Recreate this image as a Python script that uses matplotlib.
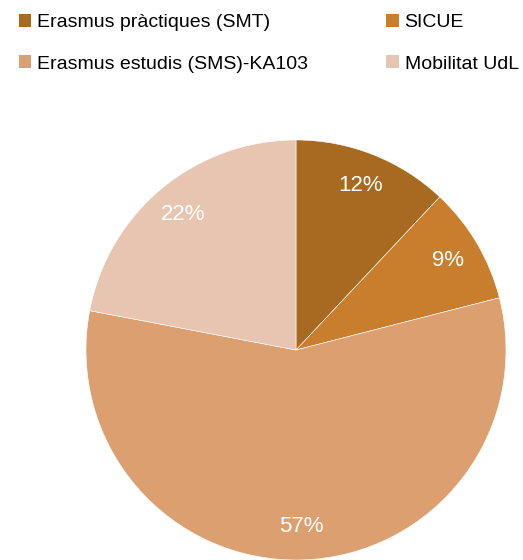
import matplotlib.pyplot as plt

labels = ["Erasmus pràctiques (SMT)", "SICUE", "Erasmus estudis (SMS)-KA103", "Mobilitat UdL"]
shares = [12, 9, 57, 22]
colors = ["#a86921", "#c87e2c", "#dc9f70", "#e7c5b0"]

plt.rcParams["font.family"] = ["Liberation Sans", "DejaVu Sans"]

fig = plt.figure(figsize=(5.23, 5.6), dpi=100)
ax = fig.add_axes([0, 0, 1, 1])

wedges, texts, autotexts = ax.pie(
    shares, colors=colors, startangle=90, counterclock=False,
    center=(296, 210), radius=210, autopct="%d%%", pctdistance=0.84,
    wedgeprops=dict(edgecolor="white", linewidth=0.4),
    textprops=dict(color="white", fontsize=16),
)
ax.set_xlim(0, 523)
ax.set_ylim(0, 560)
ax.set_aspect("equal")
ax.axis("off")

# legend rows: SMT | SICUE, SMS | UdL
order = [0, 2, 1, 3]
leg = ax.legend([wedges[i] for i in order], [labels[i] for i in order],
                ncol=2, loc="upper left", bbox_to_anchor=(0.01, 1.0),
                frameon=False, fontsize=14, handlelength=0.65, handleheight=0.65,
                handletextpad=0.3, columnspacing=4.0, labelspacing=1.25,
                borderaxespad=0.3)
for h in leg.legend_handles:
    h.set_edgecolor("none")

fig.savefig("out.png", dpi=100)
